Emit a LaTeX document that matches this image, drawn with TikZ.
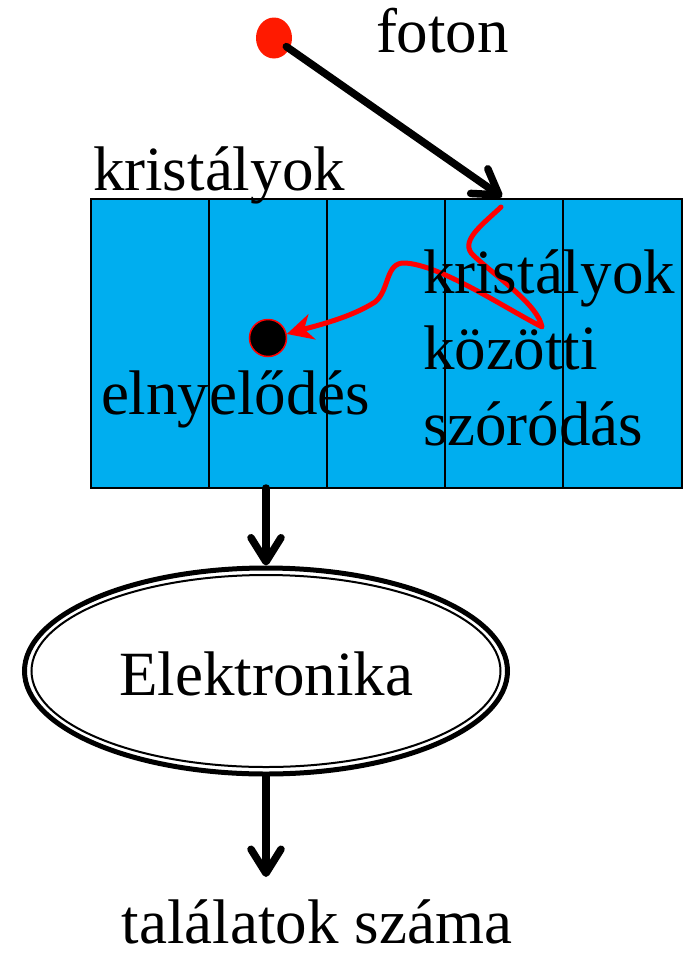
\documentclass[tikz,border=0pt]{standalone}
\usepackage{fontspec}
\setmainfont{Liberation Serif}
\usetikzlibrary{arrows.meta,shapes.geometric}
\definecolor{cryst}{HTML}{00AEEF}
\definecolor{photred}{HTML}{FF1A00}
\begin{document}
\begin{tikzpicture}[x=1pt,y=-1pt,
  lbl/.style={font=\fontsize{63}{76}\selectfont, inner sep=0pt, outer sep=0pt},
  bigarrow/.style={line width=7.5pt, line cap=round, line join=round,
    -{Straight Barb[length=24pt,width=30pt,round]}},
  divider/.style={line width=1.5pt}]
\useasboundingbox (0,0) rectangle (693,956);

% crystal block
\node[draw, fill=cryst, line width=1.8pt, minimum width=591pt, minimum height=289pt,
  inner sep=0pt, outer sep=0pt, anchor=north west] (box) at (91,199) {};
\foreach \xx in {209,327,445,563} \draw[divider] (\xx,199) -- (\xx,488);

% photon
\node[ellipse, fill=photred, minimum width=36pt, minimum height=41pt, inner sep=0pt] (photon) at (274,38) {};
\coordinate (hit) at (502,197);
\draw[bigarrow, shorten <=15pt] (photon.center) -- (hit);

% absorption point
\node[circle, fill=black, draw=red, line width=1.5pt, minimum size=37pt, inner sep=0pt] (abs) at (268,338) {};

% scattering path
\draw[red, line width=5pt, line cap=round, line join=round, -{Stealth[length=26pt,width=26pt,inset=8pt]}]
  (501,207) .. controls (482,225) and (458,242) .. (474,256)
  .. controls (498,278) and (538,305) .. (542,327)
  .. controls (500,305) and (440,265) .. (405,263)
  .. controls (385,262) and (390,290) .. (375,302)
  .. controls (350,318) and (315,326) .. (abs.12);

% texts
\node[lbl, anchor=base west] (foton) at (376,52) {foton};
\node[lbl, anchor=base west] (krist) at (93,190) {kristályok};
\node[lbl, anchor=base west] (elny) at (101,414) {elnyelődés};
\node[lbl, anchor=base west] (sz1) at (423,293) {kristályok};
\node[lbl, anchor=base west] (sz2) at (423,369) {közötti};
\node[lbl, anchor=base west] (sz3) at (423,445) {szóródás};

% electronics
\node[ellipse, draw, line width=5pt, minimum width=483pt, minimum height=206pt, inner sep=0pt] (elec) at (266,671) {};
\draw[line width=2pt] (elec.center) ellipse [x radius=234.5pt, y radius=96pt];
\node[lbl, anchor=base] (eltxt) at (266,695) {Elektronika};

% arrows
\coordinate (boxout) at (266,488);
\draw[bigarrow] (boxout) -- (elec.north);
\coordinate (resin) at (266,877);
\draw[bigarrow] (elec.south) -- (resin);

\node[lbl, anchor=base] (res) at (317,943) {találatok száma};
\end{tikzpicture}
\end{document}
